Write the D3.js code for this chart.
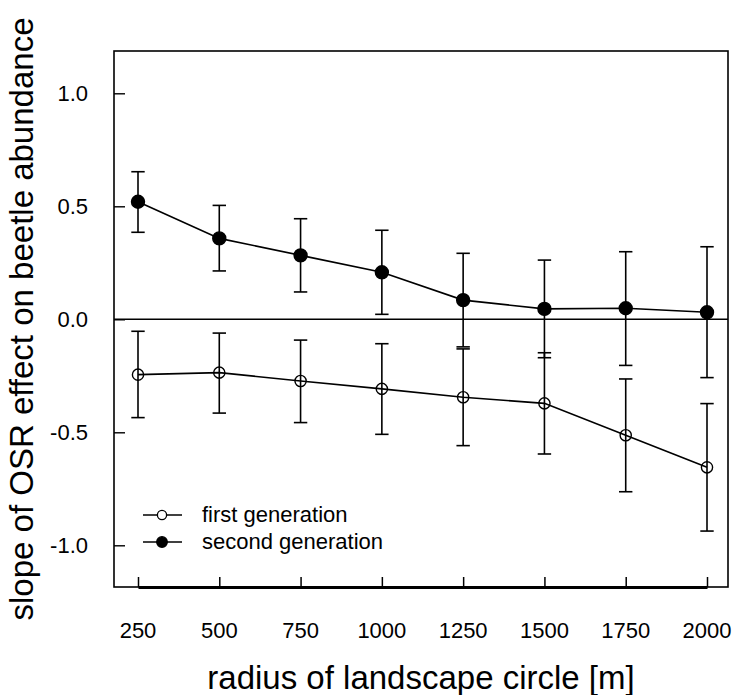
<!DOCTYPE html>
<html>
<head>
<meta charset="utf-8">
<script src="https://cdn.jsdelivr.net/npm/d3@7"></script>
<style>
  body { margin: 0; background: #fff; }
  svg { display: block; font-family: "Liberation Sans", Arial, Helvetica, sans-serif; }
</style>
</head>
<body>
<svg id="chart" width="734" height="695"></svg>
<script>
// radius of landscape circle [m]
const radius = [250, 500, 750, 1000, 1250, 1500, 1750, 2000];

// first generation: slope and error bar ends
const firstMean = [-0.245, -0.236, -0.273, -0.308, -0.345, -0.372, -0.513, -0.655];
const firstLow  = [-0.435, -0.415, -0.457, -0.509, -0.559, -0.596, -0.763, -0.937];
const firstHigh = [-0.053, -0.061, -0.092, -0.108, -0.131, -0.148, -0.264, -0.373];

// second generation
const secondMean = [0.520, 0.358, 0.283, 0.208, 0.085, 0.046, 0.049, 0.031];
const secondLow  = [0.385, 0.214, 0.121, 0.022, -0.122, -0.170, -0.204, -0.258];
const secondHigh = [0.653, 0.504, 0.445, 0.394, 0.292, 0.262, 0.299, 0.321];

const yTicks = [-1.0, -0.5, 0.0, 0.5, 1.0];
const legendLabels = ['first generation', 'second generation'];

const box = { left: 114, right: 728, top: 51, bottom: 587 };

const x = d3.scaleLinear().domain([250, 2000]).range([138, 707]);
const y = d3.scaleLinear().domain([-1, 1]).range([545.3, 93.3]);

const svg = d3.select('#chart');

// plot frame
svg.append('rect')
    .attr('x', box.left).attr('y', box.top)
    .attr('width', box.right - box.left).attr('height', box.bottom - box.top)
    .attr('fill', 'none').attr('stroke', '#000').attr('stroke-width', 1.6);

// y axis, ticks pointing inward
const yAxis = svg.append('g')
    .attr('transform', `translate(${box.left},0)`)
    .call(d3.axisRight(y).tickValues(yTicks).tickSize(11).tickFormat(''));
yAxis.select('.domain').remove();
yAxis.selectAll('line').attr('stroke', '#000').attr('stroke-width', 1.4);

svg.append('g').selectAll('text')
    .data(yTicks)
    .enter().append('text')
    .attr('x', 88)
    .attr('y', d => y(d))
    .attr('dy', '0.36em')
    .attr('text-anchor', 'end')
    .attr('font-size', 22)
    .text(d => d3.format('.1f')(d).replace('−', '-'));

// zero reference line
svg.append('line')
    .attr('x1', box.left).attr('x2', box.right)
    .attr('y1', y(0)).attr('y2', y(0))
    .attr('stroke', '#000').attr('stroke-width', 1.4);

// x axis, thick line with inward ticks
const xAxis = svg.append('g')
    .attr('transform', `translate(0,${box.bottom})`)
    .call(d3.axisTop(x).tickValues(radius).tickSize(10).tickSizeOuter(0).tickFormat(''));
xAxis.select('.domain').attr('stroke', '#000').attr('stroke-width', 2.8);
xAxis.selectAll('line').attr('stroke', '#000').attr('stroke-width', 1.5);

svg.append('g').selectAll('text')
    .data(radius)
    .enter().append('text')
    .attr('x', d => x(d))
    .attr('y', 638)
    .attr('text-anchor', 'middle')
    .attr('font-size', 22)
    .text(d => d);

// axis titles
svg.append('text')
    .attr('x', (box.left + box.right) / 2)
    .attr('y', 689)
    .attr('text-anchor', 'middle')
    .attr('font-size', 33)
    .text('radius of landscape circle [m]');

svg.append('text')
    .attr('transform', `translate(33,${(box.top + box.bottom) / 2}) rotate(-90)`)
    .attr('text-anchor', 'middle')
    .attr('font-size', 33)
    .text('slope of OSR effect on beetle abundance');

// series
const series = [
    { mean: firstMean, low: firstLow, high: firstHigh, filled: false },
    { mean: secondMean, low: secondLow, high: secondHigh, filled: true }
];

const line = d3.line().x(d => x(d.r)).y(d => y(d.v));
const cap = 6.7;

series.forEach(s => {
    const pts = radius.map((r, i) => ({ r, v: s.mean[i], lo: s.low[i], hi: s.high[i] }));
    const g = svg.append('g');

    // error bars
    const bars = g.selectAll('g.bar').data(pts).enter().append('g')
        .attr('stroke', '#000').attr('stroke-width', 1.6);
    bars.append('line')
        .attr('x1', d => x(d.r)).attr('x2', d => x(d.r))
        .attr('y1', d => y(d.lo)).attr('y2', d => y(d.hi));
    bars.append('line')
        .attr('x1', d => x(d.r) - cap).attr('x2', d => x(d.r) + cap)
        .attr('y1', d => y(d.hi)).attr('y2', d => y(d.hi));
    bars.append('line')
        .attr('x1', d => x(d.r) - cap).attr('x2', d => x(d.r) + cap)
        .attr('y1', d => y(d.lo)).attr('y2', d => y(d.lo));

    g.append('path')
        .datum(pts)
        .attr('d', line)
        .attr('fill', 'none').attr('stroke', '#000').attr('stroke-width', 1.6);

    g.selectAll('circle').data(pts).enter().append('circle')
        .attr('cx', d => x(d.r)).attr('cy', d => y(d.v))
        .attr('r', s.filled ? 6.5 : 5.6)
        .attr('fill', s.filled ? '#000' : 'none')
        .attr('stroke', '#000').attr('stroke-width', 1.4);
});

// legend
const legend = svg.append('g');
[515, 542].forEach((ly, i) => {
    legend.append('line')
        .attr('x1', 143).attr('x2', 182).attr('y1', ly).attr('y2', ly)
        .attr('stroke', '#000').attr('stroke-width', 1.5);
    legend.append('circle')
        .attr('cx', 162).attr('cy', ly)
        .attr('r', i ? 5.3 : 4.6)
        .attr('fill', i ? '#000' : '#fff')
        .attr('stroke', '#000').attr('stroke-width', 1.3);
    legend.append('text')
        .attr('x', 202).attr('y', ly).attr('dy', '0.33em')
        .attr('font-size', 22)
        .text(legendLabels[i]);
});
</script>
</body>
</html>
